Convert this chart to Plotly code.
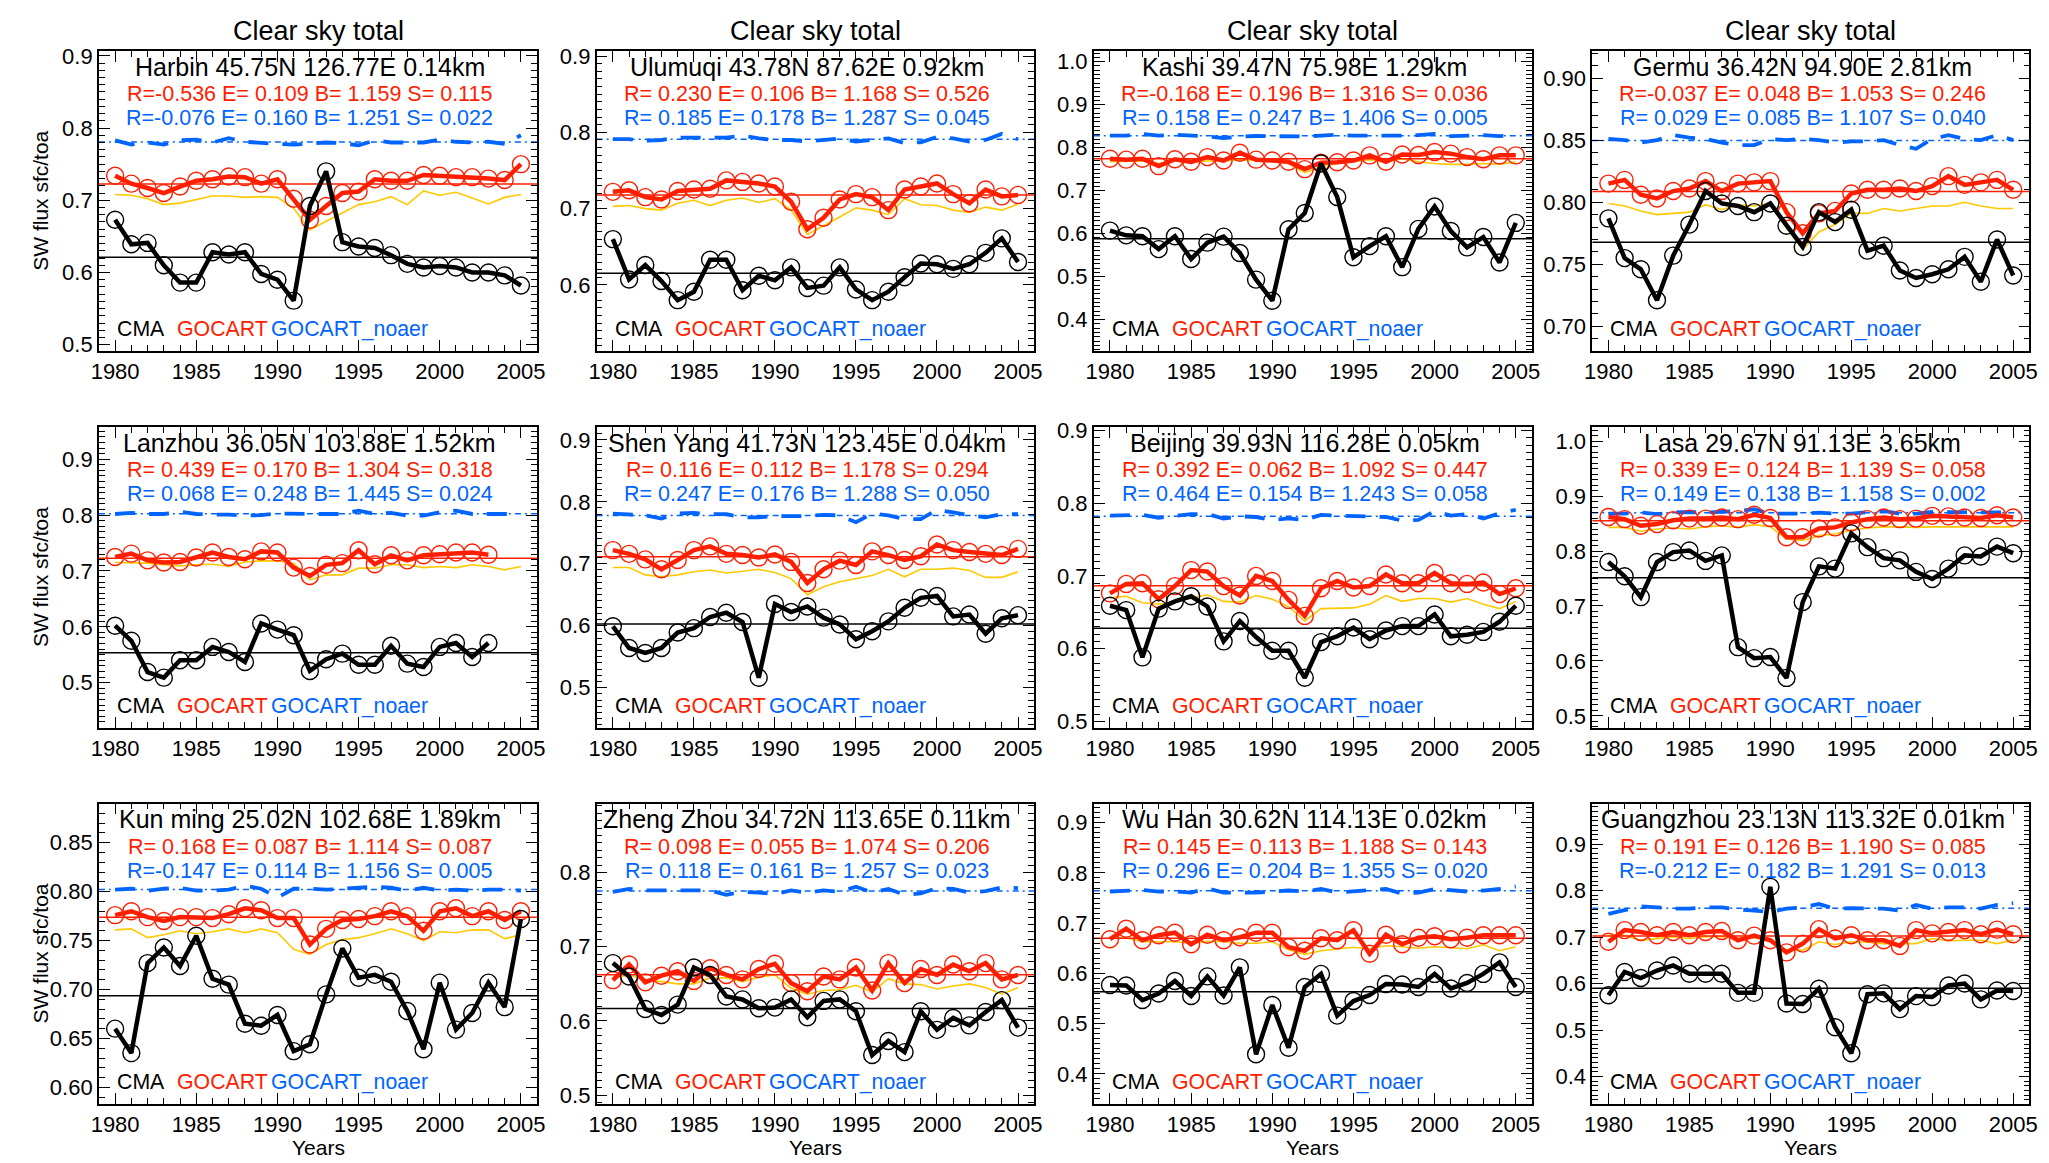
import numpy as np
import plotly.graph_objects as go

# ---------------------------------------------------------------------------
# Annual clear-sky SW transmission (surface / TOA), 1980-2005
# ---------------------------------------------------------------------------
years = list(range(1980, 2006))

station_labels = [
    "Harbin 45.75N 126.77E 0.14km", "Ulumuqi 43.78N 87.62E 0.92km",
    "Kashi 39.47N 75.98E 1.29km", "Germu 36.42N 94.90E 2.81km",
    "Lanzhou 36.05N 103.88E 1.52km", "Shen Yang 41.73N 123.45E 0.04km",
    "Beijing 39.93N 116.28E 0.05km", "Lasa 29.67N 91.13E 3.65km",
    "Kun ming 25.02N 102.68E 1.89km", "Zheng Zhou 34.72N 113.65E 0.11km",
    "Wu Han 30.62N 114.13E 0.02km", "Guangzhou 23.13N 113.32E 0.01km",
]

stats_gocart = [
    "R=-0.536 E= 0.109 B= 1.159 S= 0.115", "R= 0.230 E= 0.106 B= 1.168 S= 0.526",
    "R=-0.168 E= 0.196 B= 1.316 S= 0.036", "R=-0.037 E= 0.048 B= 1.053 S= 0.246",
    "R= 0.439 E= 0.170 B= 1.304 S= 0.318", "R= 0.116 E= 0.112 B= 1.178 S= 0.294",
    "R= 0.392 E= 0.062 B= 1.092 S= 0.447", "R= 0.339 E= 0.124 B= 1.139 S= 0.058",
    "R= 0.168 E= 0.087 B= 1.114 S= 0.087", "R= 0.098 E= 0.055 B= 1.074 S= 0.206",
    "R= 0.145 E= 0.113 B= 1.188 S= 0.143", "R= 0.191 E= 0.126 B= 1.190 S= 0.085",
]
stats_noaer = [
    "R=-0.076 E= 0.160 B= 1.251 S= 0.022", "R= 0.185 E= 0.178 B= 1.287 S= 0.045",
    "R= 0.158 E= 0.247 B= 1.406 S= 0.005", "R= 0.029 E= 0.085 B= 1.107 S= 0.040",
    "R= 0.068 E= 0.248 B= 1.445 S= 0.024", "R= 0.247 E= 0.176 B= 1.288 S= 0.050",
    "R= 0.464 E= 0.154 B= 1.243 S= 0.058", "R= 0.149 E= 0.138 B= 1.158 S= 0.002",
    "R=-0.147 E= 0.114 B= 1.156 S= 0.005", "R= 0.118 E= 0.161 B= 1.257 S= 0.023",
    "R= 0.296 E= 0.204 B= 1.355 S= 0.020", "R=-0.212 E= 0.182 B= 1.291 S= 0.013",
]

# --- Harbin ---
harbin_cma = [0.673, 0.639, 0.641, 0.610, 0.586, 0.586, 0.628, 0.625, 0.628, 0.598, 0.590, 0.561, 0.692,
              0.740, 0.642, 0.636, 0.634, 0.624, 0.612, 0.607, 0.609, 0.607, 0.600, 0.600, 0.596, 0.582]
harbin_gocart = [0.734, 0.723, 0.717, 0.710, 0.719, 0.727, 0.729, 0.733, 0.732, 0.723, 0.729, 0.702, 0.673,
                 0.692, 0.710, 0.712, 0.729, 0.727, 0.727, 0.735, 0.734, 0.732, 0.732, 0.730, 0.728, 0.750]
harbin_alt = [0.708, 0.707, 0.702, 0.694, 0.696, 0.701, 0.706, 0.706, 0.704, 0.705, 0.704, 0.689, 0.659,
              0.671, 0.683, 0.694, 0.698, 0.705, 0.694, 0.713, 0.707, 0.711, 0.703, 0.695, 0.704, 0.708]
harbin_noaer = [0.783, 0.777, 0.780, 0.777, 0.783, 0.784, 0.780, 0.786, 0.781, 0.779, 0.778, 0.777, 0.779,
                0.780, 0.779, 0.776, 0.783, 0.780, 0.780, 0.780, 0.784, 0.781, 0.780, 0.781, 0.778, 0.790]

# --- Ulumuqi ---
ulumuqi_cma = [0.660, 0.607, 0.626, 0.605, 0.580, 0.591, 0.633, 0.633, 0.593, 0.612, 0.606, 0.623, 0.596,
               0.599, 0.623, 0.594, 0.580, 0.591, 0.610, 0.628, 0.627, 0.621, 0.627, 0.642, 0.661, 0.630]
ulumuqi_gocart = [0.722, 0.724, 0.715, 0.712, 0.723, 0.725, 0.726, 0.737, 0.735, 0.733, 0.729, 0.709, 0.673,
                  0.688, 0.712, 0.719, 0.715, 0.698, 0.725, 0.729, 0.733, 0.719, 0.707, 0.725, 0.716, 0.718]
ulumuqi_alt = [0.703, 0.704, 0.700, 0.698, 0.707, 0.711, 0.704, 0.711, 0.714, 0.708, 0.713, 0.698, 0.666,
               0.677, 0.689, 0.701, 0.698, 0.692, 0.713, 0.705, 0.704, 0.698, 0.695, 0.702, 0.698, 0.706]
ulumuqi_noaer = [0.791, 0.791, 0.789, 0.790, 0.793, 0.793, 0.792, 0.793, 0.796, 0.792, 0.790, 0.790, 0.788,
                 0.790, 0.792, 0.788, 0.790, 0.792, 0.786, 0.787, 0.794, 0.792, 0.788, 0.790, 0.798, 0.791]

# --- Kashi ---
kashi_cma = [0.607, 0.596, 0.594, 0.564, 0.594, 0.541, 0.579, 0.593, 0.555, 0.493, 0.444, 0.610, 0.648,
             0.763, 0.685, 0.545, 0.571, 0.594, 0.522, 0.611, 0.663, 0.606, 0.568, 0.592, 0.533, 0.625]
kashi_gocart = [0.774, 0.772, 0.774, 0.757, 0.773, 0.767, 0.778, 0.770, 0.788, 0.772, 0.770, 0.767, 0.750,
                0.765, 0.766, 0.770, 0.782, 0.767, 0.784, 0.783, 0.790, 0.786, 0.778, 0.773, 0.782, 0.782]
kashi_alt = [0.767, 0.768, 0.769, 0.763, 0.769, 0.766, 0.769, 0.769, 0.772, 0.770, 0.769, 0.763, 0.742,
             0.755, 0.763, 0.767, 0.772, 0.767, 0.774, 0.767, 0.763, 0.761, 0.761, 0.763, 0.761, 0.767]
kashi_noaer = [0.828, 0.828, 0.832, 0.828, 0.830, 0.829, 0.826, 0.822, 0.826, 0.827, 0.826, 0.826, 0.826,
               0.828, 0.830, 0.828, 0.828, 0.826, 0.828, 0.829, 0.832, 0.827, 0.828, 0.829, 0.827, 0.828]

# --- Germu ---
germu_cma = [0.787, 0.755, 0.746, 0.721, 0.757, 0.782, 0.809, 0.799, 0.797, 0.792, 0.799, 0.781, 0.764,
             0.792, 0.784, 0.794, 0.761, 0.765, 0.745, 0.739, 0.742, 0.746, 0.756, 0.736, 0.770, 0.741]
germu_gocart = [0.815, 0.818, 0.806, 0.803, 0.809, 0.811, 0.817, 0.809, 0.815, 0.816, 0.817, 0.792, 0.775,
                0.791, 0.793, 0.807, 0.810, 0.810, 0.811, 0.809, 0.813, 0.821, 0.814, 0.816, 0.818, 0.810]
germu_alt = [0.799, 0.797, 0.793, 0.790, 0.791, 0.792, 0.798, 0.794, 0.798, 0.797, 0.799, 0.779, 0.762,
             0.776, 0.782, 0.791, 0.791, 0.795, 0.793, 0.795, 0.797, 0.797, 0.800, 0.797, 0.795, 0.795]
germu_noaer = [0.851, 0.850, 0.848, 0.850, 0.854, 0.852, 0.851, 0.848, 0.846, 0.846, 0.851, 0.850, 0.851,
               0.850, 0.848, 0.849, 0.849, 0.850, 0.846, 0.843, 0.851, 0.854, 0.851, 0.850, 0.854, 0.850]

# --- Lanzhou (station record stops in 2003) ---
lanzhou_cma = [0.602, 0.575, 0.519, 0.509, 0.540, 0.540, 0.564, 0.555, 0.537, 0.606, 0.595, 0.585, 0.521,
               0.542, 0.552, 0.532, 0.532, 0.566, 0.534, 0.528, 0.564, 0.571, 0.546, 0.571, None, None]
lanzhou_gocart = [0.725, 0.731, 0.719, 0.715, 0.716, 0.724, 0.733, 0.725, 0.721, 0.735, 0.733, 0.706, 0.691,
                  0.711, 0.714, 0.737, 0.712, 0.728, 0.719, 0.728, 0.730, 0.733, 0.733, 0.729, None, None]
lanzhou_alt = [0.715, 0.715, 0.714, 0.711, 0.709, 0.711, 0.712, 0.708, 0.716, 0.718, 0.718, 0.714, 0.684,
               0.693, 0.693, 0.705, 0.705, 0.711, 0.711, 0.706, 0.708, 0.706, 0.711, 0.708, 0.702, 0.708]
lanzhou_noaer = [0.802, 0.804, 0.802, 0.802, 0.806, 0.802, 0.801, 0.801, 0.799, 0.800, 0.803, 0.802, 0.802,
                 0.802, 0.802, 0.808, 0.802, 0.804, 0.799, 0.799, 0.805, 0.808, 0.802, 0.802, 0.802, 0.802]

# --- Shen Yang ---
shenyang_cma = [0.599, 0.564, 0.556, 0.564, 0.589, 0.596, 0.614, 0.621, 0.606, 0.516, 0.635, 0.622, 0.631,
                0.613, 0.602, 0.578, 0.591, 0.607, 0.629, 0.645, 0.648, 0.615, 0.618, 0.587, 0.612, 0.617]
shenyang_gocart = [0.722, 0.716, 0.707, 0.691, 0.706, 0.722, 0.728, 0.716, 0.714, 0.710, 0.715, 0.703, 0.669,
                   0.691, 0.705, 0.698, 0.720, 0.714, 0.706, 0.712, 0.731, 0.722, 0.719, 0.716, 0.714, 0.724]
shenyang_alt = [0.694, 0.694, 0.682, 0.679, 0.682, 0.687, 0.690, 0.685, 0.688, 0.691, 0.686, 0.676, 0.650,
                0.663, 0.671, 0.676, 0.681, 0.691, 0.679, 0.691, 0.691, 0.693, 0.689, 0.678, 0.678, 0.687]
shenyang_noaer = [0.781, 0.779, 0.778, 0.773, 0.781, 0.782, 0.780, 0.780, 0.775, 0.775, 0.777, 0.777, 0.777,
                  0.779, 0.778, 0.767, 0.781, 0.778, 0.772, 0.772, 0.787, 0.783, 0.778, 0.775, 0.780, 0.780]

# --- Beijing ---
beijing_cma = [0.659, 0.653, 0.588, 0.655, 0.665, 0.672, 0.658, 0.610, 0.638, 0.616, 0.597, 0.597, 0.560,
               0.609, 0.617, 0.629, 0.613, 0.625, 0.631, 0.631, 0.647, 0.617, 0.619, 0.623, 0.637, 0.659]
beijing_gocart = [0.676, 0.689, 0.690, 0.668, 0.686, 0.708, 0.706, 0.686, 0.673, 0.700, 0.693, 0.667, 0.645,
                  0.683, 0.693, 0.684, 0.686, 0.702, 0.690, 0.690, 0.704, 0.690, 0.689, 0.691, 0.675, 0.683]
beijing_alt = [0.670, 0.672, 0.663, 0.661, 0.665, 0.670, 0.674, 0.665, 0.664, 0.673, 0.668, 0.658, 0.638,
               0.655, 0.656, 0.656, 0.661, 0.673, 0.665, 0.669, 0.669, 0.664, 0.669, 0.661, 0.655, 0.665]
beijing_noaer = [0.783, 0.784, 0.784, 0.780, 0.783, 0.785, 0.785, 0.779, 0.782, 0.781, 0.777, 0.779, 0.777,
                 0.784, 0.783, 0.782, 0.782, 0.781, 0.776, 0.777, 0.789, 0.783, 0.785, 0.779, 0.786, 0.791]

# --- Lasa ---
lasa_cma = [0.780, 0.754, 0.716, 0.780, 0.798, 0.801, 0.782, 0.792, 0.625, 0.605, 0.607, 0.569, 0.707,
            0.772, 0.768, 0.832, 0.807, 0.787, 0.783, 0.762, 0.749, 0.768, 0.792, 0.790, 0.808, 0.796]
lasa_gocart = [0.862, 0.858, 0.846, 0.849, 0.856, 0.859, 0.859, 0.861, 0.858, 0.866, 0.860, 0.825, 0.825,
               0.841, 0.843, 0.852, 0.858, 0.861, 0.858, 0.859, 0.864, 0.863, 0.861, 0.860, 0.865, 0.861]
lasa_alt = [0.843, 0.843, 0.836, 0.840, 0.842, 0.840, 0.844, 0.846, 0.843, 0.848, 0.844, 0.822, 0.819,
            0.828, 0.831, 0.838, 0.842, 0.844, 0.844, 0.843, 0.844, 0.844, 0.844, 0.844, 0.844, 0.844]
lasa_noaer = [0.868, 0.868, 0.870, 0.867, 0.870, 0.871, 0.870, 0.871, 0.873, 0.876, 0.868, 0.868, 0.868,
              0.870, 0.868, 0.868, 0.871, 0.873, 0.868, 0.868, 0.871, 0.871, 0.870, 0.870, 0.870, 0.870]

# --- Kun ming ---
kunming_cma = [0.660, 0.635, 0.727, 0.743, 0.724, 0.755, 0.711, 0.705, 0.665, 0.663, 0.674, 0.637, 0.644,
               0.695, 0.742, 0.712, 0.715, 0.708, 0.678, 0.639, 0.707, 0.659, 0.676, 0.707, 0.682, 0.772]
kunming_gocart = [0.776, 0.780, 0.774, 0.770, 0.774, 0.774, 0.773, 0.777, 0.783, 0.781, 0.773, 0.773, 0.746,
                  0.762, 0.771, 0.772, 0.775, 0.780, 0.775, 0.760, 0.780, 0.783, 0.775, 0.780, 0.771, 0.780]
kunming_alt = [0.761, 0.762, 0.753, 0.756, 0.760, 0.757, 0.759, 0.762, 0.758, 0.762, 0.758, 0.741, 0.736,
               0.746, 0.751, 0.753, 0.757, 0.762, 0.757, 0.750, 0.759, 0.758, 0.761, 0.761, 0.752, 0.756]
kunming_noaer = [0.802, 0.803, 0.801, 0.803, 0.804, 0.801, 0.801, 0.802, 0.806, 0.803, 0.794, 0.803, 0.803,
                 0.802, 0.803, 0.804, 0.805, 0.804, 0.801, 0.804, 0.801, 0.802, 0.801, 0.802, 0.802, 0.801]

# --- Zheng Zhou ---
zhengzhou_cma = [0.678, 0.660, 0.616, 0.608, 0.622, 0.672, 0.662, 0.633, 0.629, 0.617, 0.618, 0.629, 0.605,
                 0.627, 0.629, 0.613, 0.554, 0.573, 0.558, 0.613, 0.588, 0.604, 0.594, 0.612, 0.628, 0.591]
zhengzhou_gocart = [0.655, 0.676, 0.652, 0.661, 0.667, 0.654, 0.671, 0.662, 0.656, 0.670, 0.677, 0.651, 0.640,
                    0.660, 0.656, 0.672, 0.641, 0.678, 0.651, 0.670, 0.662, 0.676, 0.667, 0.678, 0.656, 0.662]
zhengzhou_alt = [0.658, 0.662, 0.656, 0.653, 0.650, 0.650, 0.658, 0.658, 0.653, 0.659, 0.662, 0.644, 0.636,
                 0.641, 0.642, 0.648, 0.639, 0.657, 0.650, 0.649, 0.643, 0.647, 0.650, 0.645, 0.636, 0.645]
zhengzhou_noaer = [0.774, 0.778, 0.776, 0.776, 0.776, 0.776, 0.776, 0.770, 0.774, 0.773, 0.771, 0.776, 0.773,
                   0.776, 0.774, 0.781, 0.773, 0.778, 0.770, 0.772, 0.779, 0.778, 0.773, 0.775, 0.780, 0.779]

# --- Wu Han ---
wuhan_cma = [0.577, 0.576, 0.547, 0.560, 0.585, 0.555, 0.594, 0.556, 0.612, 0.439, 0.537, 0.452, 0.573,
             0.599, 0.516, 0.545, 0.557, 0.579, 0.578, 0.573, 0.599, 0.570, 0.581, 0.599, 0.622, 0.573]
wuhan_gocart = [0.668, 0.689, 0.666, 0.676, 0.681, 0.658, 0.677, 0.666, 0.672, 0.681, 0.681, 0.652, 0.645,
                0.670, 0.666, 0.686, 0.639, 0.677, 0.658, 0.671, 0.674, 0.668, 0.671, 0.676, 0.676, 0.676]
wuhan_alt = [0.670, 0.671, 0.663, 0.663, 0.663, 0.660, 0.664, 0.663, 0.660, 0.660, 0.663, 0.647, 0.638,
             0.645, 0.648, 0.652, 0.649, 0.655, 0.653, 0.650, 0.653, 0.651, 0.649, 0.657, 0.645, 0.653]
wuhan_noaer = [0.763, 0.765, 0.766, 0.763, 0.763, 0.761, 0.769, 0.761, 0.761, 0.761, 0.763, 0.765, 0.763,
               0.768, 0.761, 0.763, 0.766, 0.768, 0.759, 0.761, 0.768, 0.766, 0.763, 0.765, 0.768, 0.773]

# --- Guangzhou ---
guangzhou_cma = [0.575, 0.625, 0.612, 0.628, 0.639, 0.621, 0.621, 0.621, 0.580, 0.580, 0.808, 0.557, 0.556,
                 0.589, 0.506, 0.450, 0.577, 0.579, 0.545, 0.573, 0.571, 0.596, 0.600, 0.566, 0.585, 0.584]
guangzhou_gocart = [0.690, 0.715, 0.711, 0.704, 0.711, 0.704, 0.711, 0.713, 0.693, 0.703, 0.693, 0.667, 0.686,
                    0.717, 0.697, 0.704, 0.693, 0.693, 0.681, 0.715, 0.708, 0.711, 0.715, 0.706, 0.716, 0.706]
guangzhou_alt = [0.703, 0.704, 0.693, 0.697, 0.701, 0.697, 0.701, 0.701, 0.697, 0.698, 0.697, 0.672, 0.672,
                 0.690, 0.684, 0.690, 0.689, 0.686, 0.686, 0.686, 0.697, 0.692, 0.693, 0.693, 0.686, 0.693]
guangzhou_noaer = [0.750, 0.757, 0.766, 0.764, 0.761, 0.761, 0.764, 0.764, 0.759, 0.757, 0.754, 0.761, 0.764,
                   0.771, 0.761, 0.762, 0.762, 0.761, 0.757, 0.769, 0.761, 0.764, 0.764, 0.761, 0.769, 0.773]

panels = [
    (harbin_cma, harbin_gocart, harbin_alt, harbin_noaer),
    (ulumuqi_cma, ulumuqi_gocart, ulumuqi_alt, ulumuqi_noaer),
    (kashi_cma, kashi_gocart, kashi_alt, kashi_noaer),
    (germu_cma, germu_gocart, germu_alt, germu_noaer),
    (lanzhou_cma, lanzhou_gocart, lanzhou_alt, lanzhou_noaer),
    (shenyang_cma, shenyang_gocart, shenyang_alt, shenyang_noaer),
    (beijing_cma, beijing_gocart, beijing_alt, beijing_noaer),
    (lasa_cma, lasa_gocart, lasa_alt, lasa_noaer),
    (kunming_cma, kunming_gocart, kunming_alt, kunming_noaer),
    (zhengzhou_cma, zhengzhou_gocart, zhengzhou_alt, zhengzhou_noaer),
    (wuhan_cma, wuhan_gocart, wuhan_alt, wuhan_noaer),
    (guangzhou_cma, guangzhou_gocart, guangzhou_alt, guangzhou_noaer),
]

# ---------------------------------------------------------------------------
# Axis settings per panel
# ---------------------------------------------------------------------------
y_ranges = [(0.491, 0.907), (0.513, 0.907), (0.3265, 1.0253), (0.680, 0.922),
            (0.419, 0.958), (0.435, 0.921), (0.491, 0.905), (0.478, 1.026),
            (0.583, 0.890), (0.488, 0.893), (0.340, 0.938), (0.341, 0.987)]
y_dticks = [0.1, 0.1, 0.1, 0.05, 0.1, 0.1, 0.1, 0.1, 0.05, 0.1, 0.1, 0.1]
x_range = (1979, 2006)

W, H = 2049, 1163
col_left = [91.6, 593.3, 1094.3, 1596.7]
col_right = [533.3, 1034.3, 1536.0, 2037.3]
row_top = [42.3, 423.3, 805.0]
row_bot = [346.7, 728.3, 1109.3]

FONT = "Liberation Sans, Arial, Helvetica, sans-serif"
RED = "rgb(255,30,0)"
BLUE = "rgb(0,100,255)"
GOLD = "rgb(255,200,0)"
BLACK = "black"
TICK_SIZE = 22

fig = go.Figure()
annotations = []

for i, (cma, gocart, alt, noaer) in enumerate(panels):
    r, c = divmod(i, 4)
    k = i + 1
    sfx = "" if k == 1 else str(k)
    xa, ya = "x" + sfx, "y" + sfx

    # means used for the reference lines
    m_cma = float(np.nanmean(np.array(cma, dtype=float)))
    m_gocart = float(np.nanmean(np.array(gocart, dtype=float)))
    m_noaer = float(np.nanmean(np.array(noaer, dtype=float)))

    common = dict(xaxis=xa, yaxis=ya, showlegend=False, hoverinfo="skip")

    # GOCART_noaer mean (thin dash-dot) and series (thick long dashes)
    fig.add_trace(go.Scatter(x=list(x_range), y=[m_noaer, m_noaer], mode="lines",
                             line=dict(color=BLUE, width=1.5, dash="6px,4px,2px,4px"), **common))
    fig.add_trace(go.Scatter(x=years, y=noaer, mode="lines",
                             line=dict(color=BLUE, width=3.8, dash="20px,14px"), **common))
    # thin companion GOCART curve
    fig.add_trace(go.Scatter(x=years, y=alt, mode="lines",
                             line=dict(color=GOLD, width=1.6), **common))
    # means of GOCART and CMA
    fig.add_trace(go.Scatter(x=list(x_range), y=[m_gocart, m_gocart], mode="lines",
                             line=dict(color=RED, width=1.5), **common))
    fig.add_trace(go.Scatter(x=list(x_range), y=[m_cma, m_cma], mode="lines",
                             line=dict(color=BLACK, width=1.5), **common))
    # GOCART with circles
    fig.add_trace(go.Scatter(x=years, y=gocart, mode="lines+markers",
                             line=dict(color=RED, width=4.5),
                             marker=dict(symbol="circle-open", size=17, color=RED,
                                         line=dict(width=1.4, color=RED)), **common))
    # CMA observations with circles
    fig.add_trace(go.Scatter(x=years, y=cma, mode="lines+markers",
                             line=dict(color=BLACK, width=4.5),
                             marker=dict(symbol="circle-open", size=17, color=BLACK,
                                         line=dict(width=1.4, color=BLACK)), **common))

    dt = y_dticks[i]
    fig.layout["xaxis" + sfx] = dict(
        domain=[col_left[c] / W, col_right[c] / W], anchor=ya, range=list(x_range),
        tick0=1980, dtick=5, ticks="inside", ticklen=11, tickwidth=1.3, tickcolor=BLACK,
        showline=True, linecolor=BLACK, linewidth=1.6, mirror="ticks", showgrid=False,
        zeroline=False, tickfont=dict(family=FONT, size=TICK_SIZE, color=BLACK),
        minor=dict(tick0=1980, dtick=1, ticks="inside", ticklen=6, tickwidth=1.2,
                   tickcolor=BLACK, showgrid=False),
    )
    fig.layout["yaxis" + sfx] = dict(
        domain=[1 - row_bot[r] / H, 1 - row_top[r] / H], anchor=xa, range=list(y_ranges[i]),
        tick0=0, dtick=dt, tickformat=".2f" if dt < 0.1 else ".1f",
        ticks="inside", ticklen=11, tickwidth=1.3, tickcolor=BLACK,
        showline=True, linecolor=BLACK, linewidth=1.6, mirror="ticks", showgrid=False,
        zeroline=False, tickfont=dict(family=FONT, size=TICK_SIZE, color=BLACK),
        minor=dict(tick0=0, dtick=0.01, ticks="inside", ticklen=6, tickwidth=1.2,
                   tickcolor=BLACK, showgrid=False),
    )

    dom = ya + " domain"
    annotations += [
        dict(x=1992, y=0.9475, xref=xa, yref=dom, text=station_labels[i], showarrow=False,
             xanchor="center", yanchor="middle", font=dict(family=FONT, size=25, color=BLACK)),
        dict(x=1992, y=0.856, xref=xa, yref=dom, text=stats_gocart[i], showarrow=False,
             xanchor="center", yanchor="middle", font=dict(family=FONT, size=21.5, color=RED)),
        dict(x=1992, y=0.777, xref=xa, yref=dom, text=stats_noaer[i], showarrow=False,
             xanchor="center", yanchor="middle", font=dict(family=FONT, size=21.5, color=BLUE)),
        dict(x=1980, y=0.074, xref=xa, yref=dom, text="CMA", showarrow=False,
             xanchor="left", yanchor="middle", font=dict(family=FONT, size=21.3, color=BLACK)),
        dict(x=1983.7, y=0.074, xref=xa, yref=dom, text="GOCART", showarrow=False,
             xanchor="left", yanchor="middle", font=dict(family=FONT, size=21.3, color=RED)),
        dict(x=1989.5, y=0.074, xref=xa, yref=dom, text="GOCART_noaer", showarrow=False,
             xanchor="left", yanchor="middle", font=dict(family=FONT, size=21.3, color=BLUE)),
    ]

# panel titles on the top row, axis titles on the left column and bottom row
for c in range(4):
    xc = (col_left[c] + col_right[c]) / 2 / W
    annotations.append(dict(x=xc, y=1 - 22 / H, xref="paper", yref="paper",
                            text="Clear sky total", showarrow=False, xanchor="center",
                            yanchor="middle", font=dict(family=FONT, size=27, color=BLACK)))
    annotations.append(dict(x=xc, y=1 - 1153 / H, xref="paper", yref="paper",
                            text="Years", showarrow=False, xanchor="center",
                            yanchor="middle", font=dict(family=FONT, size=21, color=BLACK)))
for r in range(3):
    yc = 1 - (row_top[r] + row_bot[r]) / 2 / H
    annotations.append(dict(x=33 / W, y=yc, xref="paper", yref="paper",
                            text="SW flux sfc/toa", showarrow=False, textangle=-90,
                            xanchor="center", yanchor="middle",
                            font=dict(family=FONT, size=21, color=BLACK)))

fig.update_layout(
    width=W, height=H, margin=dict(l=0, r=0, t=0, b=0),
    paper_bgcolor="white", plot_bgcolor="white",
    annotations=annotations, showlegend=False,
    font=dict(family=FONT, color=BLACK),
)

fig.write_html("out.html")
